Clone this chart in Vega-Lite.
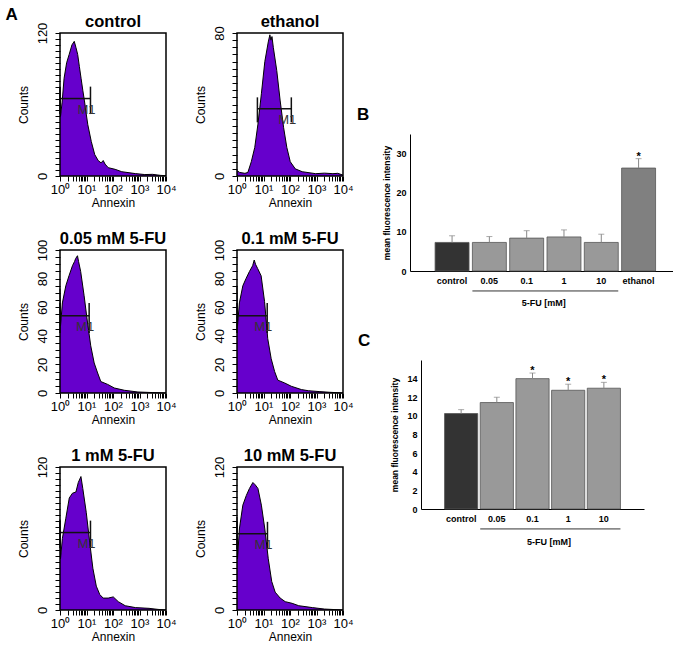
{
"$schema": "https://vega.github.io/schema/vega-lite/v6.json",
"padding": {"left": 5, "top": 6, "right": 0, "bottom": 0},
"config": {
  "font": "Liberation Sans",
  "view": {"stroke": null},
  "axis": {"grid": false, "labelFont": "Liberation Sans", "titleFont": "Liberation Sans", "labelColor": "black", "titleColor": "black", "tickColor": "black", "domainColor": "black", "labelOverlap": false, "labelFlush": false, "tickCount": 100},
  "title": {"font": "Liberation Sans", "fontSize": 16.5, "fontWeight": "bold", "color": "black", "offset": -8.5}
},
"datasets": {
  "hist": [
    {"panel":"control","log10_annexin":0,"counts":74},{"panel":"control","log10_annexin":0.02,"counts":50},{"panel":"control","log10_annexin":0.08,"counts":62},{"panel":"control","log10_annexin":0.154,"counts":82},{"panel":"control","log10_annexin":0.25,"counts":95},{"panel":"control","log10_annexin":0.346,"counts":102},{"panel":"control","log10_annexin":0.45,"counts":110},{"panel":"control","log10_annexin":0.538,"counts":113},{"panel":"control","log10_annexin":0.6,"counts":108},{"panel":"control","log10_annexin":0.667,"counts":102},{"panel":"control","log10_annexin":0.73,"counts":92},{"panel":"control","log10_annexin":0.795,"counts":82},{"panel":"control","log10_annexin":0.86,"counts":72},{"panel":"control","log10_annexin":0.923,"counts":63},{"panel":"control","log10_annexin":0.99,"counts":52},{"panel":"control","log10_annexin":1.05,"counts":43},{"panel":"control","log10_annexin":1.18,"counts":29},{"panel":"control","log10_annexin":1.31,"counts":18},{"panel":"control","log10_annexin":1.44,"counts":13},{"panel":"control","log10_annexin":1.55,"counts":11},{"panel":"control","log10_annexin":1.63,"counts":13},{"panel":"control","log10_annexin":1.7,"counts":10},{"panel":"control","log10_annexin":1.82,"counts":7},{"panel":"control","log10_annexin":2.08,"counts":5.6},{"panel":"control","log10_annexin":2.33,"counts":3.6},{"panel":"control","log10_annexin":2.85,"counts":2},{"panel":"control","log10_annexin":3.2,"counts":1.2},{"panel":"control","log10_annexin":3.49,"counts":1.4},{"panel":"control","log10_annexin":3.8,"counts":0.5},{"panel":"control","log10_annexin":4,"counts":0.3},
    {"panel":"ethanol","log10_annexin":0,"counts":3},{"panel":"ethanol","log10_annexin":0.1,"counts":2},{"panel":"ethanol","log10_annexin":0.3,"counts":1.5},{"panel":"ethanol","log10_annexin":0.41,"counts":2},{"panel":"ethanol","log10_annexin":0.54,"counts":8},{"panel":"ethanol","log10_annexin":0.67,"counts":16},{"panel":"ethanol","log10_annexin":0.79,"counts":29},{"panel":"ethanol","log10_annexin":0.92,"counts":46},{"panel":"ethanol","log10_annexin":1.05,"counts":64},{"panel":"ethanol","log10_annexin":1.18,"counts":75},{"panel":"ethanol","log10_annexin":1.24,"counts":79},{"panel":"ethanol","log10_annexin":1.28,"counts":76},{"panel":"ethanol","log10_annexin":1.32,"counts":78},{"panel":"ethanol","log10_annexin":1.37,"counts":72},{"panel":"ethanol","log10_annexin":1.5,"counts":59},{"panel":"ethanol","log10_annexin":1.63,"counts":42},{"panel":"ethanol","log10_annexin":1.76,"counts":27},{"panel":"ethanol","log10_annexin":1.88,"counts":16},{"panel":"ethanol","log10_annexin":2.01,"counts":8},{"panel":"ethanol","log10_annexin":2.2,"counts":4},{"panel":"ethanol","log10_annexin":2.46,"counts":2.4},{"panel":"ethanol","log10_annexin":2.97,"counts":1.3},{"panel":"ethanol","log10_annexin":3.3,"counts":1.6},{"panel":"ethanol","log10_annexin":3.62,"counts":1.3},{"panel":"ethanol","log10_annexin":3.8,"counts":1.5},{"panel":"ethanol","log10_annexin":4,"counts":0.5},
    {"panel":"0.05 mM 5-FU","log10_annexin":0,"counts":73},{"panel":"0.05 mM 5-FU","log10_annexin":0.02,"counts":47},{"panel":"0.05 mM 5-FU","log10_annexin":0.09,"counts":63},{"panel":"0.05 mM 5-FU","log10_annexin":0.22,"counts":75},{"panel":"0.05 mM 5-FU","log10_annexin":0.34,"counts":82},{"panel":"0.05 mM 5-FU","log10_annexin":0.47,"counts":89},{"panel":"0.05 mM 5-FU","log10_annexin":0.55,"counts":92},{"panel":"0.05 mM 5-FU","log10_annexin":0.59,"counts":94},{"panel":"0.05 mM 5-FU","log10_annexin":0.66,"counts":96},{"panel":"0.05 mM 5-FU","log10_annexin":0.7,"counts":92},{"panel":"0.05 mM 5-FU","log10_annexin":0.78,"counts":85},{"panel":"0.05 mM 5-FU","log10_annexin":0.91,"counts":68},{"panel":"0.05 mM 5-FU","log10_annexin":1.04,"counts":49},{"panel":"0.05 mM 5-FU","log10_annexin":1.16,"counts":33},{"panel":"0.05 mM 5-FU","log10_annexin":1.29,"counts":21},{"panel":"0.05 mM 5-FU","log10_annexin":1.42,"counts":14},{"panel":"0.05 mM 5-FU","log10_annexin":1.54,"counts":8},{"panel":"0.05 mM 5-FU","log10_annexin":1.8,"counts":6},{"panel":"0.05 mM 5-FU","log10_annexin":2.05,"counts":3.5},{"panel":"0.05 mM 5-FU","log10_annexin":2.43,"counts":1.9},{"panel":"0.05 mM 5-FU","log10_annexin":2.94,"counts":0.7},{"panel":"0.05 mM 5-FU","log10_annexin":3.5,"counts":0.3},{"panel":"0.05 mM 5-FU","log10_annexin":4,"counts":0},
    {"panel":"0.1 mM 5-FU","log10_annexin":0,"counts":75},{"panel":"0.1 mM 5-FU","log10_annexin":0.02,"counts":47},{"panel":"0.1 mM 5-FU","log10_annexin":0.09,"counts":63},{"panel":"0.1 mM 5-FU","log10_annexin":0.22,"counts":75},{"panel":"0.1 mM 5-FU","log10_annexin":0.34,"counts":80},{"panel":"0.1 mM 5-FU","log10_annexin":0.47,"counts":85},{"panel":"0.1 mM 5-FU","log10_annexin":0.59,"counts":89},{"panel":"0.1 mM 5-FU","log10_annexin":0.65,"counts":93},{"panel":"0.1 mM 5-FU","log10_annexin":0.7,"counts":90},{"panel":"0.1 mM 5-FU","log10_annexin":0.78,"counts":87},{"panel":"0.1 mM 5-FU","log10_annexin":0.91,"counts":82},{"panel":"0.1 mM 5-FU","log10_annexin":1.04,"counts":64},{"panel":"0.1 mM 5-FU","log10_annexin":1.16,"counts":38},{"panel":"0.1 mM 5-FU","log10_annexin":1.29,"counts":24},{"panel":"0.1 mM 5-FU","log10_annexin":1.42,"counts":15},{"panel":"0.1 mM 5-FU","log10_annexin":1.54,"counts":9},{"panel":"0.1 mM 5-FU","log10_annexin":1.8,"counts":7},{"panel":"0.1 mM 5-FU","log10_annexin":2.05,"counts":4.7},{"panel":"0.1 mM 5-FU","log10_annexin":2.43,"counts":2.4},{"panel":"0.1 mM 5-FU","log10_annexin":2.69,"counts":1.6},{"panel":"0.1 mM 5-FU","log10_annexin":3.1,"counts":1},{"panel":"0.1 mM 5-FU","log10_annexin":3.5,"counts":0.5},{"panel":"0.1 mM 5-FU","log10_annexin":4,"counts":0},
    {"panel":"1 mM 5-FU","log10_annexin":0,"counts":76},{"panel":"1 mM 5-FU","log10_annexin":0.02,"counts":43},{"panel":"1 mM 5-FU","log10_annexin":0.09,"counts":60},{"panel":"1 mM 5-FU","log10_annexin":0.22,"counts":77},{"panel":"1 mM 5-FU","log10_annexin":0.35,"counts":94},{"panel":"1 mM 5-FU","log10_annexin":0.47,"counts":98},{"panel":"1 mM 5-FU","log10_annexin":0.6,"counts":99},{"panel":"1 mM 5-FU","log10_annexin":0.69,"counts":107},{"panel":"1 mM 5-FU","log10_annexin":0.79,"counts":112},{"panel":"1 mM 5-FU","log10_annexin":0.86,"counts":102},{"panel":"1 mM 5-FU","log10_annexin":0.99,"counts":82},{"panel":"1 mM 5-FU","log10_annexin":1.12,"counts":57},{"panel":"1 mM 5-FU","log10_annexin":1.24,"counts":35},{"panel":"1 mM 5-FU","log10_annexin":1.37,"counts":20},{"panel":"1 mM 5-FU","log10_annexin":1.5,"counts":13},{"panel":"1 mM 5-FU","log10_annexin":1.63,"counts":10},{"panel":"1 mM 5-FU","log10_annexin":1.82,"counts":10},{"panel":"1 mM 5-FU","log10_annexin":2.01,"counts":11},{"panel":"1 mM 5-FU","log10_annexin":2.2,"counts":7},{"panel":"1 mM 5-FU","log10_annexin":2.46,"counts":3.6},{"panel":"1 mM 5-FU","log10_annexin":2.85,"counts":2},{"panel":"1 mM 5-FU","log10_annexin":3.36,"counts":1.4},{"panel":"1 mM 5-FU","log10_annexin":3.7,"counts":0.5},{"panel":"1 mM 5-FU","log10_annexin":4,"counts":0},
    {"panel":"10 mM 5-FU","log10_annexin":0,"counts":78},{"panel":"10 mM 5-FU","log10_annexin":0.02,"counts":43},{"panel":"10 mM 5-FU","log10_annexin":0.09,"counts":68},{"panel":"10 mM 5-FU","log10_annexin":0.22,"counts":88},{"panel":"10 mM 5-FU","log10_annexin":0.35,"counts":96},{"panel":"10 mM 5-FU","log10_annexin":0.47,"counts":102},{"panel":"10 mM 5-FU","log10_annexin":0.6,"counts":107},{"panel":"10 mM 5-FU","log10_annexin":0.69,"counts":105},{"panel":"10 mM 5-FU","log10_annexin":0.79,"counts":102},{"panel":"10 mM 5-FU","log10_annexin":0.92,"counts":88},{"panel":"10 mM 5-FU","log10_annexin":1.05,"counts":68},{"panel":"10 mM 5-FU","log10_annexin":1.18,"counts":43},{"panel":"10 mM 5-FU","log10_annexin":1.31,"counts":24},{"panel":"10 mM 5-FU","log10_annexin":1.44,"counts":15},{"panel":"10 mM 5-FU","log10_annexin":1.63,"counts":10},{"panel":"10 mM 5-FU","log10_annexin":1.82,"counts":7},{"panel":"10 mM 5-FU","log10_annexin":2.08,"counts":5.6},{"panel":"10 mM 5-FU","log10_annexin":2.33,"counts":3.6},{"panel":"10 mM 5-FU","log10_annexin":2.85,"counts":2},{"panel":"10 mM 5-FU","log10_annexin":3.3,"counts":0.8},{"panel":"10 mM 5-FU","log10_annexin":4,"counts":0}
  ],
  "gates": [
    {"panel":"control","gate":"M1","start":0,"end":1.15,"level":65,"lo":52,"hi":75},
    {"panel":"ethanol","gate":"M1","start":0.77,"end":2.05,"level":37.6,"lo":30,"hi":44},
    {"panel":"0.05 mM 5-FU","gate":"M1","start":0,"end":1.1,"level":54,"lo":42,"hi":63},
    {"panel":"0.1 mM 5-FU","gate":"M1","start":0,"end":1.14,"level":54,"lo":42,"hi":63},
    {"panel":"1 mM 5-FU","gate":"M1","start":0,"end":1.15,"level":65,"lo":52,"hi":75},
    {"panel":"10 mM 5-FU","gate":"M1","start":0,"end":1.15,"level":64,"lo":51,"hi":74}
  ],
  "mfi_b": [
    {"group":"control","mean":7.3,"upper":9.0,"sig":""},
    {"group":"0.05","mean":7.3,"upper":8.8,"sig":""},
    {"group":"0.1","mean":8.4,"upper":10.3,"sig":""},
    {"group":"1","mean":8.7,"upper":10.5,"sig":""},
    {"group":"10","mean":7.3,"upper":9.4,"sig":""},
    {"group":"ethanol","mean":26.3,"upper":28.7,"sig":"*"}
  ],
  "mfi_c": [
    {"group":"control","mean":10.25,"upper":10.67,"sig":""},
    {"group":"0.05","mean":11.43,"upper":12.0,"sig":""},
    {"group":"0.1","mean":14.0,"upper":14.6,"sig":"*"},
    {"group":"1","mean":12.75,"upper":13.4,"sig":"*"},
    {"group":"10","mean":12.97,"upper":13.6,"sig":"*"}
  ]
},
"hconcat": [
  {
    "title": {"text": "A", "orient": "left", "anchor": "end", "angle": 0, "align": "right", "baseline": "top", "frame": "bounds", "fontSize": 17, "offset": -13, "dy": -7},
    "spacing": 23,
    "vconcat": [
      {"spacing": 16, "hconcat": [
        {"width":106,"height":143,"title":"control",
         "layer":[
          {"data":{"name":"hist"},"transform":[{"filter":"datum.panel === 'control'"}],"mark":{"type":"area","color":"#6600cc","opacity":1,"line":{"color":"black","strokeWidth":1}},
           "encoding":{"x":{"field":"log10_annexin","type":"quantitative","title":"Annexin","scale":{"domain":[0,4],"nice":false,"zero":false},"axis":{"values":[0,0.301,0.477,0.602,0.699,0.778,0.845,0.903,0.954,1,1.301,1.477,1.602,1.699,1.778,1.845,1.903,1.954,2,2.301,2.477,2.602,2.699,2.778,2.845,2.903,2.954,3,3.301,3.477,3.602,3.699,3.778,3.845,3.903,3.954,4],"tickCount":100,"labelExpr":"datum.value % 1 === 0 ? '10' + ['⁰','¹','²','³','⁴'][datum.value] : ''","labelOverlap":false,"labelFlush":false,"labelAngle":0,"labelFontSize":13,"labelPadding":2,"tickSize":5,"domain":false,"titleFontSize":12,"titleFontWeight":"normal","titlePadding":1}},
            "y":{"field":"counts","type":"quantitative","title":"Counts","scale":{"domain":[0,120],"nice":false},"axis":{"values":[0,5,10,15,20,25,30,35,40,45,50,55,60,65,70,75,80,85,90,95,100,105,110,115,120],"tickCount":100,"labelExpr":"datum.value % 120 === 0 ? datum.label : ''","labelOverlap":false,"labelFlush":false,"labelAngle":-90,"labelFontSize":13,"labelPadding":6,"tickSize":5,"domain":false,"titleFontSize":12,"titleFontWeight":"normal","titlePadding":6}}}},
          {"data":{"name":"gates"},"transform":[{"filter":"datum.panel === 'control'"}],"mark":{"type":"rule","color":"#111","strokeWidth":1.5},"encoding":{"x":{"field":"start","type":"quantitative","title":"Annexin"},"x2":{"field":"end"},"y":{"field":"level","type":"quantitative","title":"Counts"}}},
          {"data":{"name":"gates"},"transform":[{"filter":"datum.panel === 'control'"}],"mark":{"type":"rule","color":"#111","strokeWidth":1.5},"encoding":{"x":{"field":"start","type":"quantitative","title":"Annexin"},"y":{"field":"lo","type":"quantitative","title":"Counts"},"y2":{"field":"hi"}}},
          {"data":{"name":"gates"},"transform":[{"filter":"datum.panel === 'control'"}],"mark":{"type":"rule","color":"#111","strokeWidth":1.5},"encoding":{"x":{"field":"end","type":"quantitative","title":"Annexin"},"y":{"field":"lo","type":"quantitative","title":"Counts"},"y2":{"field":"hi"}}},
          {"data":{"name":"gates"},"transform":[{"filter":"datum.panel === 'control'"}],"mark":{"type":"text","align":"right","baseline":"top","dx":5,"dy":5,"fontSize":13,"color":"#333"},"encoding":{"x":{"field":"end","type":"quantitative","title":"Annexin"},"y":{"field":"level","type":"quantitative","title":"Counts"},"text":{"field":"gate"}}},
          {"data":{"values":[{}]},"mark":{"type":"rect","filled":false,"stroke":"black","strokeWidth":1.5},"encoding":{"x":{"datum":0},"x2":{"datum":4},"y":{"datum":0},"y2":{"datum":120}}}
         ]},
        {"width":106,"height":143,"title":{"text":"ethanol","offset":-5},
         "layer":[
          {"data":{"name":"hist"},"transform":[{"filter":"datum.panel === 'ethanol'"}],"mark":{"type":"area","color":"#6600cc","opacity":1,"line":{"color":"black","strokeWidth":1}},
           "encoding":{"x":{"field":"log10_annexin","type":"quantitative","title":"Annexin","scale":{"domain":[0,4],"nice":false,"zero":false},"axis":{"values":[0,0.301,0.477,0.602,0.699,0.778,0.845,0.903,0.954,1,1.301,1.477,1.602,1.699,1.778,1.845,1.903,1.954,2,2.301,2.477,2.602,2.699,2.778,2.845,2.903,2.954,3,3.301,3.477,3.602,3.699,3.778,3.845,3.903,3.954,4],"tickCount":100,"labelExpr":"datum.value % 1 === 0 ? '10' + ['⁰','¹','²','³','⁴'][datum.value] : ''","labelOverlap":false,"labelFlush":false,"labelAngle":0,"labelFontSize":13,"labelPadding":2,"tickSize":5,"domain":false,"titleFontSize":12,"titleFontWeight":"normal","titlePadding":1}},
            "y":{"field":"counts","type":"quantitative","title":"Counts","scale":{"domain":[0,80],"nice":false},"axis":{"values":[0,4,8,12,16,20,24,28,32,36,40,44,48,52,56,60,64,68,72,76,80],"tickCount":100,"labelExpr":"datum.value % 80 === 0 ? datum.label : ''","labelOverlap":false,"labelFlush":false,"labelAngle":-90,"labelFontSize":13,"labelPadding":6,"tickSize":5,"domain":false,"titleFontSize":12,"titleFontWeight":"normal","titlePadding":6}}}},
          {"data":{"name":"gates"},"transform":[{"filter":"datum.panel === 'ethanol'"}],"mark":{"type":"rule","color":"#111","strokeWidth":1.5},"encoding":{"x":{"field":"start","type":"quantitative","title":"Annexin"},"x2":{"field":"end"},"y":{"field":"level","type":"quantitative","title":"Counts"}}},
          {"data":{"name":"gates"},"transform":[{"filter":"datum.panel === 'ethanol'"}],"mark":{"type":"rule","color":"#111","strokeWidth":1.5},"encoding":{"x":{"field":"start","type":"quantitative","title":"Annexin"},"y":{"field":"lo","type":"quantitative","title":"Counts"},"y2":{"field":"hi"}}},
          {"data":{"name":"gates"},"transform":[{"filter":"datum.panel === 'ethanol'"}],"mark":{"type":"rule","color":"#111","strokeWidth":1.5},"encoding":{"x":{"field":"end","type":"quantitative","title":"Annexin"},"y":{"field":"lo","type":"quantitative","title":"Counts"},"y2":{"field":"hi"}}},
          {"data":{"name":"gates"},"transform":[{"filter":"datum.panel === 'ethanol'"}],"mark":{"type":"text","align":"right","baseline":"top","dx":5,"dy":5,"fontSize":13,"color":"#333"},"encoding":{"x":{"field":"end","type":"quantitative","title":"Annexin"},"y":{"field":"level","type":"quantitative","title":"Counts"},"text":{"field":"gate"}}},
          {"data":{"values":[{}]},"mark":{"type":"rect","filled":false,"stroke":"black","strokeWidth":1.5},"encoding":{"x":{"datum":0},"x2":{"datum":4},"y":{"datum":0},"y2":{"datum":80}}}
         ]}
      ]},
      {"spacing": 16, "hconcat": [
        {"width":106,"height":143,"title":"0.05 mM 5-FU",
         "layer":[
          {"data":{"name":"hist"},"transform":[{"filter":"datum.panel === '0.05 mM 5-FU'"}],"mark":{"type":"area","color":"#6600cc","opacity":1,"line":{"color":"black","strokeWidth":1}},
           "encoding":{"x":{"field":"log10_annexin","type":"quantitative","title":"Annexin","scale":{"domain":[0,4],"nice":false,"zero":false},"axis":{"values":[0,0.301,0.477,0.602,0.699,0.778,0.845,0.903,0.954,1,1.301,1.477,1.602,1.699,1.778,1.845,1.903,1.954,2,2.301,2.477,2.602,2.699,2.778,2.845,2.903,2.954,3,3.301,3.477,3.602,3.699,3.778,3.845,3.903,3.954,4],"tickCount":100,"labelExpr":"datum.value % 1 === 0 ? '10' + ['⁰','¹','²','³','⁴'][datum.value] : ''","labelOverlap":false,"labelFlush":false,"labelAngle":0,"labelFontSize":13,"labelPadding":2,"tickSize":5,"domain":false,"titleFontSize":12,"titleFontWeight":"normal","titlePadding":1}},
            "y":{"field":"counts","type":"quantitative","title":"Counts","scale":{"domain":[0,100],"nice":false},"axis":{"values":[0,5,10,15,20,25,30,35,40,45,50,55,60,65,70,75,80,85,90,95,100],"tickCount":100,"labelExpr":"datum.value % 20 === 0 ? datum.label : ''","labelOverlap":false,"labelFlush":false,"labelAngle":-90,"labelFontSize":13,"labelPadding":6,"tickSize":5,"domain":false,"titleFontSize":12,"titleFontWeight":"normal","titlePadding":6}}}},
          {"data":{"name":"gates"},"transform":[{"filter":"datum.panel === '0.05 mM 5-FU'"}],"mark":{"type":"rule","color":"#111","strokeWidth":1.5},"encoding":{"x":{"field":"start","type":"quantitative","title":"Annexin"},"x2":{"field":"end"},"y":{"field":"level","type":"quantitative","title":"Counts"}}},
          {"data":{"name":"gates"},"transform":[{"filter":"datum.panel === '0.05 mM 5-FU'"}],"mark":{"type":"rule","color":"#111","strokeWidth":1.5},"encoding":{"x":{"field":"start","type":"quantitative","title":"Annexin"},"y":{"field":"lo","type":"quantitative","title":"Counts"},"y2":{"field":"hi"}}},
          {"data":{"name":"gates"},"transform":[{"filter":"datum.panel === '0.05 mM 5-FU'"}],"mark":{"type":"rule","color":"#111","strokeWidth":1.5},"encoding":{"x":{"field":"end","type":"quantitative","title":"Annexin"},"y":{"field":"lo","type":"quantitative","title":"Counts"},"y2":{"field":"hi"}}},
          {"data":{"name":"gates"},"transform":[{"filter":"datum.panel === '0.05 mM 5-FU'"}],"mark":{"type":"text","align":"right","baseline":"top","dx":5,"dy":5,"fontSize":13,"color":"#333"},"encoding":{"x":{"field":"end","type":"quantitative","title":"Annexin"},"y":{"field":"level","type":"quantitative","title":"Counts"},"text":{"field":"gate"}}},
          {"data":{"values":[{}]},"mark":{"type":"rect","filled":false,"stroke":"black","strokeWidth":1.5},"encoding":{"x":{"datum":0},"x2":{"datum":4},"y":{"datum":0},"y2":{"datum":100}}}
         ]},
        {"width":106,"height":143,"title":"0.1 mM 5-FU",
         "layer":[
          {"data":{"name":"hist"},"transform":[{"filter":"datum.panel === '0.1 mM 5-FU'"}],"mark":{"type":"area","color":"#6600cc","opacity":1,"line":{"color":"black","strokeWidth":1}},
           "encoding":{"x":{"field":"log10_annexin","type":"quantitative","title":"Annexin","scale":{"domain":[0,4],"nice":false,"zero":false},"axis":{"values":[0,0.301,0.477,0.602,0.699,0.778,0.845,0.903,0.954,1,1.301,1.477,1.602,1.699,1.778,1.845,1.903,1.954,2,2.301,2.477,2.602,2.699,2.778,2.845,2.903,2.954,3,3.301,3.477,3.602,3.699,3.778,3.845,3.903,3.954,4],"tickCount":100,"labelExpr":"datum.value % 1 === 0 ? '10' + ['⁰','¹','²','³','⁴'][datum.value] : ''","labelOverlap":false,"labelFlush":false,"labelAngle":0,"labelFontSize":13,"labelPadding":2,"tickSize":5,"domain":false,"titleFontSize":12,"titleFontWeight":"normal","titlePadding":1}},
            "y":{"field":"counts","type":"quantitative","title":"Counts","scale":{"domain":[0,100],"nice":false},"axis":{"values":[0,5,10,15,20,25,30,35,40,45,50,55,60,65,70,75,80,85,90,95,100],"tickCount":100,"labelExpr":"datum.value % 20 === 0 ? datum.label : ''","labelOverlap":false,"labelFlush":false,"labelAngle":-90,"labelFontSize":13,"labelPadding":6,"tickSize":5,"domain":false,"titleFontSize":12,"titleFontWeight":"normal","titlePadding":6}}}},
          {"data":{"name":"gates"},"transform":[{"filter":"datum.panel === '0.1 mM 5-FU'"}],"mark":{"type":"rule","color":"#111","strokeWidth":1.5},"encoding":{"x":{"field":"start","type":"quantitative","title":"Annexin"},"x2":{"field":"end"},"y":{"field":"level","type":"quantitative","title":"Counts"}}},
          {"data":{"name":"gates"},"transform":[{"filter":"datum.panel === '0.1 mM 5-FU'"}],"mark":{"type":"rule","color":"#111","strokeWidth":1.5},"encoding":{"x":{"field":"start","type":"quantitative","title":"Annexin"},"y":{"field":"lo","type":"quantitative","title":"Counts"},"y2":{"field":"hi"}}},
          {"data":{"name":"gates"},"transform":[{"filter":"datum.panel === '0.1 mM 5-FU'"}],"mark":{"type":"rule","color":"#111","strokeWidth":1.5},"encoding":{"x":{"field":"end","type":"quantitative","title":"Annexin"},"y":{"field":"lo","type":"quantitative","title":"Counts"},"y2":{"field":"hi"}}},
          {"data":{"name":"gates"},"transform":[{"filter":"datum.panel === '0.1 mM 5-FU'"}],"mark":{"type":"text","align":"right","baseline":"top","dx":5,"dy":5,"fontSize":13,"color":"#333"},"encoding":{"x":{"field":"end","type":"quantitative","title":"Annexin"},"y":{"field":"level","type":"quantitative","title":"Counts"},"text":{"field":"gate"}}},
          {"data":{"values":[{}]},"mark":{"type":"rect","filled":false,"stroke":"black","strokeWidth":1.5},"encoding":{"x":{"datum":0},"x2":{"datum":4},"y":{"datum":0},"y2":{"datum":100}}}
         ]}
      ]},
      {"spacing": 16, "hconcat": [
        {"width":106,"height":143,"title":"1 mM 5-FU",
         "layer":[
          {"data":{"name":"hist"},"transform":[{"filter":"datum.panel === '1 mM 5-FU'"}],"mark":{"type":"area","color":"#6600cc","opacity":1,"line":{"color":"black","strokeWidth":1}},
           "encoding":{"x":{"field":"log10_annexin","type":"quantitative","title":"Annexin","scale":{"domain":[0,4],"nice":false,"zero":false},"axis":{"values":[0,0.301,0.477,0.602,0.699,0.778,0.845,0.903,0.954,1,1.301,1.477,1.602,1.699,1.778,1.845,1.903,1.954,2,2.301,2.477,2.602,2.699,2.778,2.845,2.903,2.954,3,3.301,3.477,3.602,3.699,3.778,3.845,3.903,3.954,4],"tickCount":100,"labelExpr":"datum.value % 1 === 0 ? '10' + ['⁰','¹','²','³','⁴'][datum.value] : ''","labelOverlap":false,"labelFlush":false,"labelAngle":0,"labelFontSize":13,"labelPadding":2,"tickSize":5,"domain":false,"titleFontSize":12,"titleFontWeight":"normal","titlePadding":1}},
            "y":{"field":"counts","type":"quantitative","title":"Counts","scale":{"domain":[0,120],"nice":false},"axis":{"values":[0,5,10,15,20,25,30,35,40,45,50,55,60,65,70,75,80,85,90,95,100,105,110,115,120],"tickCount":100,"labelExpr":"datum.value % 120 === 0 ? datum.label : ''","labelOverlap":false,"labelFlush":false,"labelAngle":-90,"labelFontSize":13,"labelPadding":6,"tickSize":5,"domain":false,"titleFontSize":12,"titleFontWeight":"normal","titlePadding":6}}}},
          {"data":{"name":"gates"},"transform":[{"filter":"datum.panel === '1 mM 5-FU'"}],"mark":{"type":"rule","color":"#111","strokeWidth":1.5},"encoding":{"x":{"field":"start","type":"quantitative","title":"Annexin"},"x2":{"field":"end"},"y":{"field":"level","type":"quantitative","title":"Counts"}}},
          {"data":{"name":"gates"},"transform":[{"filter":"datum.panel === '1 mM 5-FU'"}],"mark":{"type":"rule","color":"#111","strokeWidth":1.5},"encoding":{"x":{"field":"start","type":"quantitative","title":"Annexin"},"y":{"field":"lo","type":"quantitative","title":"Counts"},"y2":{"field":"hi"}}},
          {"data":{"name":"gates"},"transform":[{"filter":"datum.panel === '1 mM 5-FU'"}],"mark":{"type":"rule","color":"#111","strokeWidth":1.5},"encoding":{"x":{"field":"end","type":"quantitative","title":"Annexin"},"y":{"field":"lo","type":"quantitative","title":"Counts"},"y2":{"field":"hi"}}},
          {"data":{"name":"gates"},"transform":[{"filter":"datum.panel === '1 mM 5-FU'"}],"mark":{"type":"text","align":"right","baseline":"top","dx":5,"dy":5,"fontSize":13,"color":"#333"},"encoding":{"x":{"field":"end","type":"quantitative","title":"Annexin"},"y":{"field":"level","type":"quantitative","title":"Counts"},"text":{"field":"gate"}}},
          {"data":{"values":[{}]},"mark":{"type":"rect","filled":false,"stroke":"black","strokeWidth":1.5},"encoding":{"x":{"datum":0},"x2":{"datum":4},"y":{"datum":0},"y2":{"datum":120}}}
         ]},
        {"width":106,"height":143,"title":"10 mM 5-FU",
         "layer":[
          {"data":{"name":"hist"},"transform":[{"filter":"datum.panel === '10 mM 5-FU'"}],"mark":{"type":"area","color":"#6600cc","opacity":1,"line":{"color":"black","strokeWidth":1}},
           "encoding":{"x":{"field":"log10_annexin","type":"quantitative","title":"Annexin","scale":{"domain":[0,4],"nice":false,"zero":false},"axis":{"values":[0,0.301,0.477,0.602,0.699,0.778,0.845,0.903,0.954,1,1.301,1.477,1.602,1.699,1.778,1.845,1.903,1.954,2,2.301,2.477,2.602,2.699,2.778,2.845,2.903,2.954,3,3.301,3.477,3.602,3.699,3.778,3.845,3.903,3.954,4],"tickCount":100,"labelExpr":"datum.value % 1 === 0 ? '10' + ['⁰','¹','²','³','⁴'][datum.value] : ''","labelOverlap":false,"labelFlush":false,"labelAngle":0,"labelFontSize":13,"labelPadding":2,"tickSize":5,"domain":false,"titleFontSize":12,"titleFontWeight":"normal","titlePadding":1}},
            "y":{"field":"counts","type":"quantitative","title":"Counts","scale":{"domain":[0,120],"nice":false},"axis":{"values":[0,5,10,15,20,25,30,35,40,45,50,55,60,65,70,75,80,85,90,95,100,105,110,115,120],"tickCount":100,"labelExpr":"datum.value % 120 === 0 ? datum.label : ''","labelOverlap":false,"labelFlush":false,"labelAngle":-90,"labelFontSize":13,"labelPadding":6,"tickSize":5,"domain":false,"titleFontSize":12,"titleFontWeight":"normal","titlePadding":6}}}},
          {"data":{"name":"gates"},"transform":[{"filter":"datum.panel === '10 mM 5-FU'"}],"mark":{"type":"rule","color":"#111","strokeWidth":1.5},"encoding":{"x":{"field":"start","type":"quantitative","title":"Annexin"},"x2":{"field":"end"},"y":{"field":"level","type":"quantitative","title":"Counts"}}},
          {"data":{"name":"gates"},"transform":[{"filter":"datum.panel === '10 mM 5-FU'"}],"mark":{"type":"rule","color":"#111","strokeWidth":1.5},"encoding":{"x":{"field":"start","type":"quantitative","title":"Annexin"},"y":{"field":"lo","type":"quantitative","title":"Counts"},"y2":{"field":"hi"}}},
          {"data":{"name":"gates"},"transform":[{"filter":"datum.panel === '10 mM 5-FU'"}],"mark":{"type":"rule","color":"#111","strokeWidth":1.5},"encoding":{"x":{"field":"end","type":"quantitative","title":"Annexin"},"y":{"field":"lo","type":"quantitative","title":"Counts"},"y2":{"field":"hi"}}},
          {"data":{"name":"gates"},"transform":[{"filter":"datum.panel === '10 mM 5-FU'"}],"mark":{"type":"text","align":"right","baseline":"top","dx":5,"dy":5,"fontSize":13,"color":"#333"},"encoding":{"x":{"field":"end","type":"quantitative","title":"Annexin"},"y":{"field":"level","type":"quantitative","title":"Counts"},"text":{"field":"gate"}}},
          {"data":{"values":[{}]},"mark":{"type":"rect","filled":false,"stroke":"black","strokeWidth":1.5},"encoding":{"x":{"datum":0},"x2":{"datum":4},"y":{"datum":0},"y2":{"datum":120}}}
         ]}
      ]}
    ]
  },
  {
    "spacing": 23,
    "vconcat": [
      {"width": 1, "height": 50, "data": {"values": []}, "mark": "point"},
      {"spacing": 0, "hconcat": [
        {"width": 1, "height": 1, "data": {"values": []}, "mark": "point"},
        {"width": 263, "height": 137,
         "title": {"text": "B", "anchor": "start", "fontSize": 17, "dx": -26, "offset": 10},
         "data": {"name": "mfi_b"},
         "layer": [
          {"mark": {"type": "bar", "stroke": "#555", "strokeWidth": 0.8},
           "encoding": {
            "x": {"field": "group", "type": "nominal", "sort": null, "scale": {"paddingInner": 0.09, "paddingOuter": 0.57, "align": 0.59}, "axis": {"title": null, "labelAngle": 0, "labelFontSize": 9, "labelFontWeight": "bold", "ticks": false, "labelPadding": 5, "labelOverlap": false}},
            "y": {"field": "mean", "type": "quantitative", "title": "mean fluorescence intensity", "scale": {"domain": [0, 35], "nice": false}, "axis": {"values": [0, 10, 20, 30], "format": "d", "tickCount": 100, "labelOverlap": false, "titleFontSize": 8.5, "titleFontWeight": "bold", "labelFontSize": 9, "labelFontWeight": "bold", "ticks": false, "labelPadding": 4, "titlePadding": 4}},
            "color": {"field": "group", "type": "nominal", "scale": {"domain": ["control", "0.05", "0.1", "1", "10", "ethanol"], "range": ["#333333", "#999999", "#999999", "#999999", "#999999", "#808080"]}, "legend": null}}},
          {"mark": {"type": "rule", "color": "#888", "strokeWidth": 1}, "encoding": {"x": {"field": "group", "type": "nominal", "sort": null}, "y": {"field": "mean", "type": "quantitative", "title": "mean fluorescence intensity"}, "y2": {"field": "upper"}}},
          {"mark": {"type": "tick", "color": "#888", "thickness": 1, "size": 6}, "encoding": {"x": {"field": "group", "type": "nominal", "sort": null}, "y": {"field": "upper", "type": "quantitative", "title": "mean fluorescence intensity"}}},
          {"mark": {"type": "text", "baseline": "bottom", "fontSize": 11, "fontWeight": "bold", "dy": 3}, "encoding": {"x": {"field": "group", "type": "nominal", "sort": null}, "y": {"field": "upper", "type": "quantitative", "title": "mean fluorescence intensity"}, "text": {"field": "sig"}}},
          {"data": {"values": [{}]}, "mark": {"type": "rule", "color": "#333", "strokeWidth": 1}, "encoding": {"x": {"datum": "0.05", "bandPosition": 0}, "x2": {"datum": "10", "bandPosition": 1}, "y": {"datum": -5.1}}},
          {"data": {"values": [{}]}, "mark": {"type": "text", "fontSize": 9, "fontWeight": "bold", "baseline": "middle"}, "encoding": {"x": {"datum": "0.1", "bandPosition": 1}, "y": {"datum": -8.2}, "text": {"value": "5-FU [mM]"}}}
         ]}
      ]},
      {"spacing": 1, "hconcat": [
        {"width": 1, "height": 1, "data": {"values": []}, "mark": "point"},
        {"width": 223, "height": 149,
         "title": {"text": "C", "anchor": "start", "fontSize": 17, "dx": -33, "offset": 10},
         "data": {"name": "mfi_c"},
         "layer": [
          {"mark": {"type": "bar", "stroke": "#555", "strokeWidth": 0.8},
           "encoding": {
            "x": {"field": "group", "type": "nominal", "sort": null, "scale": {"paddingInner": 0.07, "paddingOuter": 0.66, "align": 0.5}, "axis": {"title": null, "labelAngle": 0, "labelFontSize": 9, "labelFontWeight": "bold", "ticks": false, "labelPadding": 5, "labelOverlap": false}},
            "y": {"field": "mean", "type": "quantitative", "title": "mean fluorescence intensity", "scale": {"domain": [0, 16], "nice": false}, "axis": {"values": [0, 2, 4, 6, 8, 10, 12, 14], "format": "d", "tickCount": 100, "labelOverlap": false, "titleFontSize": 8.5, "titleFontWeight": "bold", "labelFontSize": 9, "labelFontWeight": "bold", "ticks": false, "labelPadding": 4, "titlePadding": 7}},
            "color": {"field": "group", "type": "nominal", "scale": {"domain": ["control", "0.05", "0.1", "1", "10"], "range": ["#333333", "#999999", "#999999", "#999999", "#999999"]}, "legend": null}}},
          {"mark": {"type": "rule", "color": "#888", "strokeWidth": 1}, "encoding": {"x": {"field": "group", "type": "nominal", "sort": null}, "y": {"field": "mean", "type": "quantitative", "title": "mean fluorescence intensity"}, "y2": {"field": "upper"}}},
          {"mark": {"type": "tick", "color": "#888", "thickness": 1, "size": 6}, "encoding": {"x": {"field": "group", "type": "nominal", "sort": null}, "y": {"field": "upper", "type": "quantitative", "title": "mean fluorescence intensity"}}},
          {"mark": {"type": "text", "baseline": "bottom", "fontSize": 11, "fontWeight": "bold", "dy": 3}, "encoding": {"x": {"field": "group", "type": "nominal", "sort": null}, "y": {"field": "upper", "type": "quantitative", "title": "mean fluorescence intensity"}, "text": {"field": "sig"}}},
          {"data": {"values": [{}]}, "mark": {"type": "rule", "color": "#333", "strokeWidth": 1}, "encoding": {"x": {"datum": "0.05", "bandPosition": 0}, "x2": {"datum": "10", "bandPosition": 1}, "y": {"datum": -2.14}}},
          {"data": {"values": [{}]}, "mark": {"type": "text", "fontSize": 9, "fontWeight": "bold", "baseline": "middle"}, "encoding": {"x": {"datum": "0.1", "bandPosition": 1}, "y": {"datum": -3.5}, "text": {"value": "5-FU [mM]"}}}
         ]}
      ]}
    ]
  }
],
"spacing": 1
}
